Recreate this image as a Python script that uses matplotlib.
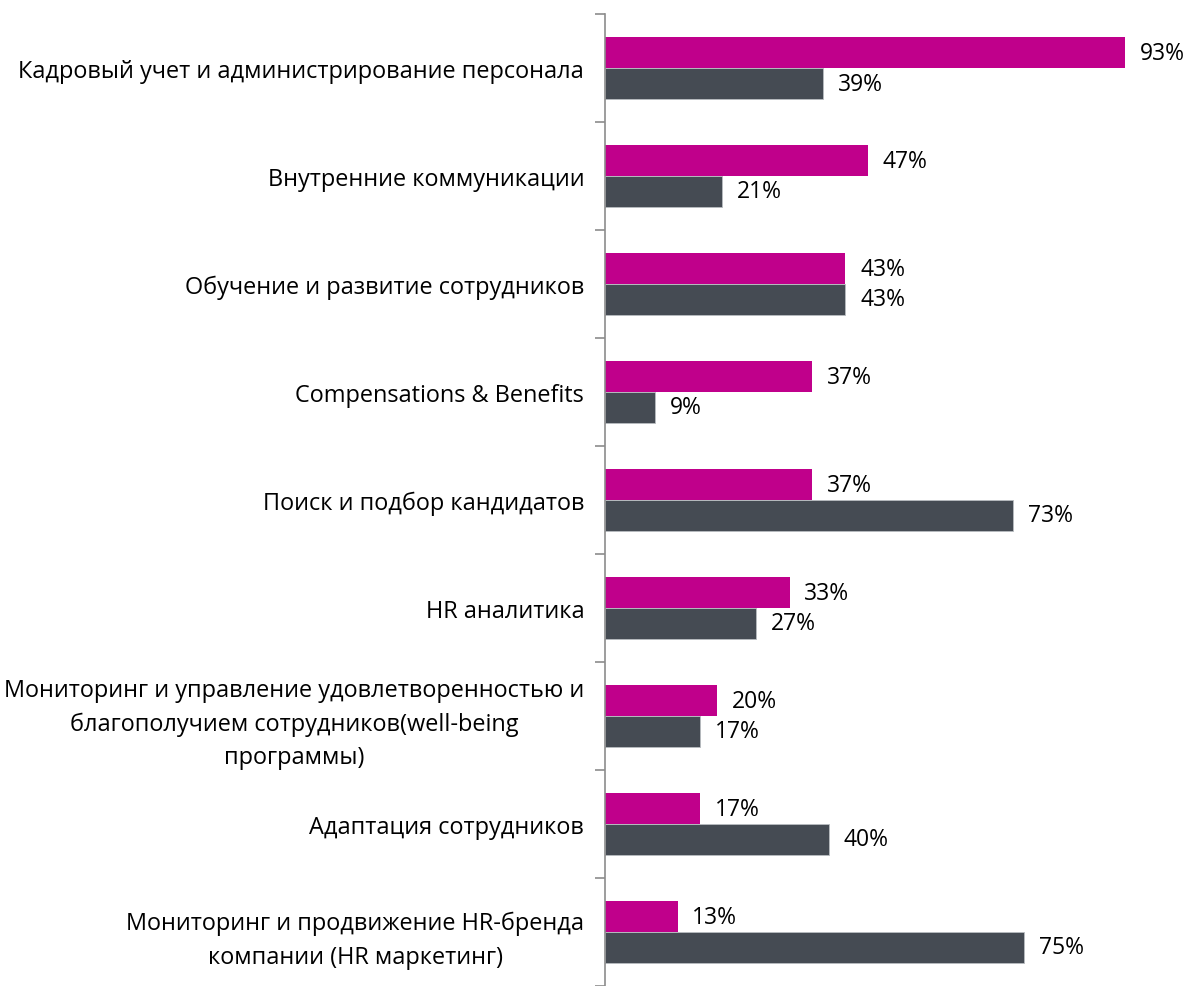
import numpy as np
import matplotlib
matplotlib.use('Agg')
import matplotlib.pyplot as plt

plt.rcParams['font.family'] = ['Open Sans', 'DejaVu Sans']

# категории сверху вниз
categories = [
    'Кадровый учет и администрирование персонала',
    'Внутренние коммуникации',
    'Обучение и развитие сотрудников',
    'Compensations & Benefits',
    'Поиск и подбор кандидатов',
    'HR аналитика',
    'Мониторинг и управление удовлетворенностью и\nблагополучием сотрудников(well-being\nпрограммы)',
    'Адаптация сотрудников',
    'Мониторинг и продвижение HR-бренда\nкомпании (HR маркетинг)',
]
series_a = [93, 47, 43, 37, 37, 33, 20, 17, 13]
series_b = [39, 21, 43, 9, 73, 27, 17, 40, 75]

color_a = '#C0008B'
color_b = '#454B53'
axis_color = '#8C8C8C'
fs = 16.5

fig = plt.figure(figsize=(11.87, 9.87), dpi=100)
ax = fig.add_axes([0.5097, 0.0, 0.4735, 0.9848])

y = np.arange(len(categories))
h = 0.287

ax.barh(y - h / 2, series_a, height=h, color=color_a)
ax.barh(y + h / 2, series_b, height=h, color=color_b, edgecolor='#B8BCC0', linewidth=0.6)

for yi, va, vb in zip(y, series_a, series_b):
    ax.text(va + 2.6, yi - h / 2, f'{va}%', va='center', ha='left', fontsize=fs)
    ax.text(vb + 2.6, yi + h / 2, f'{vb}%', va='center', ha='left', fontsize=fs)

ax.set_xlim(0, 100.5)
ax.set_ylim(len(categories) - 0.5, -0.5)

# подписи категорий по центрам групп, засечки по границам
ax.set_yticks(y)
ax.set_yticklabels(categories, fontsize=16.9, multialignment='center', linespacing=1.52)
ax.tick_params(axis='y', which='major', length=0, pad=15)
ax.set_yticks(np.arange(len(categories) + 1) - 0.5, minor=True)
ax.tick_params(axis='y', which='minor', length=7, width=1.2, color=axis_color, direction='out')

ax.set_xticks([])
for side in ['top', 'right', 'bottom']:
    ax.spines[side].set_visible(False)
ax.spines['left'].set_color(axis_color)
ax.spines['left'].set_linewidth(1.2)

fig.savefig('out.png', dpi=100)
